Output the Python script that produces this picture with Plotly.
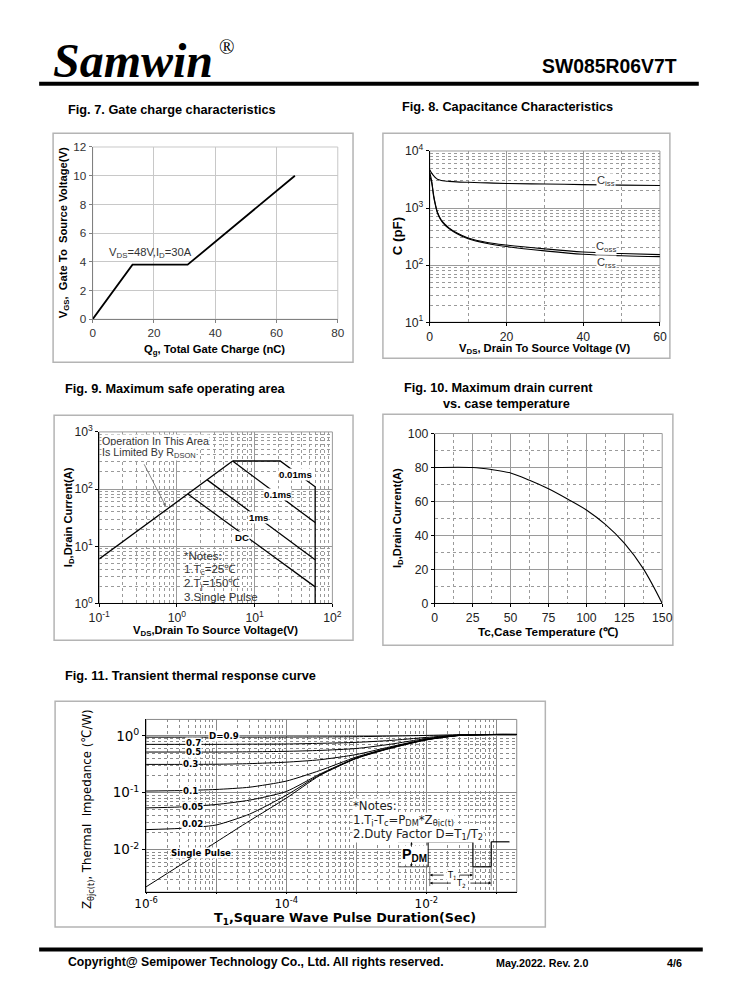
import plotly.graph_objects as go

# figure 722x984; positions below are given in target page pixels and mapped
W, H = 722, 984
SX, OX = 0.973, 11.0
SY, OY = 0.984, 8.8
def fx(p): return ((p - OX) / SX - 8) / W
def fy(p): return 1 - ((p - OY) / SY - 8) / H
FS = 1.02

# ---------------- data ----------------
# Fig 7 gate charge
qg = [0, 13, 31, 66]
vgs = [0, 3.8, 3.8, 10]

# Fig 8 capacitance
v_cap = [0, 0.5, 1, 1.5, 2, 3, 4, 5, 7, 10, 15, 20, 30, 40, 50, 60]
ciss = [4700, 4100, 3700, 3400, 3200, 3050, 2980, 2940, 2880, 2830, 2760, 2700, 2640, 2580, 2520, 2480]
coss = [4200, 3000, 1700, 1150, 850, 620, 520, 450, 370, 300, 250, 225, 193, 170, 160, 153]
crss = [3600, 2800, 1600, 1100, 820, 600, 500, 440, 360, 290, 240, 212, 178, 155, 146, 141]

# Fig 9 SOA
v_rds = [0.1, 5.2]
i_rds = [6.0, 310]
v_10us = [5.2, 21.3, 60, 60]
i_10us = [310, 310, 110, 1.0]
v_100us = [5.2, 60]
i_100us = [310, 26]
v_1ms = [2.45, 60]
i_1ms = [145, 5.8]
v_dc = [1.38, 60]
i_dc = [82, 1.95]

# Fig 10 drain current vs case temperature
tc = [0, 25, 37.5, 50, 62.5, 75, 87.5, 100, 112.5, 125, 137.5, 150]
id_tc = [80, 80, 78.8, 76.8, 72.5, 67.5, 61.5, 55, 46.5, 35.5, 20.5, 0]

# Fig 11 transient thermal response
t_pulse = [1e-6, 3e-6, 1e-5, 3e-5, 1e-4, 3e-4, 1e-3, 3e-3, 1e-2, 3e-2, 1e-1, 2e-1]
z_single = [0.0022, 0.0052, 0.0135, 0.032, 0.08, 0.2, 0.40, 0.60, 0.85, 1.02, 1.06, 1.06]
z_d002 = [0.0224, 0.0235, 0.027, 0.042, 0.09, 0.205, 0.405, 0.605, 0.855, 1.02, 1.06, 1.06]
z_d005 = [0.054, 0.056, 0.062, 0.074, 0.105, 0.212, 0.41, 0.61, 0.86, 1.02, 1.06, 1.06]
z_d01 = [0.107, 0.109, 0.114, 0.125, 0.16, 0.245, 0.425, 0.62, 0.865, 1.025, 1.06, 1.06]
z_d03 = [0.315, 0.315, 0.317, 0.325, 0.345, 0.38, 0.47, 0.64, 0.875, 1.03, 1.06, 1.06]
z_d05 = [0.52, 0.52, 0.52, 0.525, 0.535, 0.555, 0.6, 0.71, 0.9, 1.035, 1.06, 1.06]
z_d07 = [0.71, 0.71, 0.71, 0.715, 0.72, 0.74, 0.77, 0.83, 0.94, 1.04, 1.06, 1.06]
z_d09 = [0.95, 0.95, 0.95, 0.952, 0.955, 0.96, 0.97, 0.99, 1.02, 1.05, 1.06, 1.06]
duty_labels = ["D=0.9", "0.7", "0.5", "0.3", "0.1", "0.05", "0.02", "Single Pulse"]

# ---------------- figure ----------------
fig = go.Figure()
LINE = dict(color="black", width=1.3)

fig.add_trace(go.Scatter(x=qg, y=vgs, mode="lines", line=dict(color="black", width=1.8), xaxis="x", yaxis="y"))
for arr in (ciss, coss, crss):
    fig.add_trace(go.Scatter(x=v_cap, y=arr, mode="lines", line=dict(color="black", width=1.1, shape="spline"), xaxis="x2", yaxis="y2"))
for vx, iy in ((v_rds, i_rds), (v_10us, i_10us), (v_100us, i_100us), (v_1ms, i_1ms), (v_dc, i_dc)):
    fig.add_trace(go.Scatter(x=vx, y=iy, mode="lines", line=LINE, xaxis="x3", yaxis="y3"))
fig.add_trace(go.Scatter(x=tc, y=id_tc, mode="lines", line=dict(color="black", width=1.1, shape="spline"), xaxis="x4", yaxis="y4"))
for z in (z_d09, z_d07, z_d05, z_d03, z_d01, z_d005, z_d002, z_single):
    fig.add_trace(go.Scatter(x=t_pulse, y=z, mode="lines", line=dict(color="black", width=1.0, shape="spline", smoothing=0.6), xaxis="x5", yaxis="y5"))

ARIAL = "Arial, Liberation Sans, sans-serif"
DJ = "DejaVu Sans, sans-serif"
TICKF = dict(family=ARIAL, size=12 * FS, color="#222")

def dec_minor(lo_exp, hi_exp, hi_val=None):
    vals = []
    for e in range(lo_exp, hi_exp):
        for k in range(2, 10):
            v = k * 10 ** e
            if hi_val is None or v <= hi_val:
                vals.append(v)
    return vals

def sup(e):
    return f"10<sup>{e}</sup>"

common = dict(showline=True, linecolor="black", linewidth=1, zeroline=False, ticks="outside", ticklen=3, tickcolor="black")

layout = dict(
    width=W, height=H, margin=dict(l=0, r=0, t=0, b=0),
    paper_bgcolor="white", plot_bgcolor="white", showlegend=False,
    font=dict(family=ARIAL),
    # Fig 7
    xaxis=dict(domain=[fx(91.7), fx(337.7)], anchor="y", range=[0, 80], tickvals=[0, 20, 40, 60, 80],
               showgrid=True, gridcolor="#c8c8c8", gridwidth=1, tickfont=dict(family=ARIAL, size=11.5 * FS, color="#333"),
               **{**common, "linecolor": "#808080", "tickcolor": "#808080"}),
    yaxis=dict(domain=[fy(319), fy(146.7)], anchor="x", range=[0, 12], tickvals=list(range(0, 13, 2)),
               showgrid=True, gridcolor="#c8c8c8", gridwidth=1, tickfont=dict(family=ARIAL, size=11.5 * FS, color="#333"),
               **{**common, "linecolor": "#808080", "tickcolor": "#808080"}),
    # Fig 8
    xaxis2=dict(domain=[fx(430), fx(661)], anchor="y2", range=[0, 60], tickvals=[0, 20, 40, 60],
                showgrid=True, gridcolor="#9a9a9a", tickfont=TICKF,
                minor=dict(tickmode="array", tickvals=[10, 30, 50], showgrid=True, gridcolor="#9a9a9a", griddash="dot", ticks=""),
                **common),
    yaxis2=dict(domain=[fy(322), fy(150.7)], anchor="x2", type="log", range=[1, 4],
                tickvals=[10, 100, 1000, 10000], ticktext=[sup(1), sup(2), sup(3), sup(4)],
                showgrid=True, gridcolor="#9a9a9a", tickfont=TICKF,
                minor=dict(tickmode="array", tickvals=dec_minor(1, 4), showgrid=True, gridcolor="#9a9a9a", griddash="dot", ticks=""),
                **common),
    # Fig 9
    xaxis3=dict(domain=[fx(98.3), fx(332.3)], anchor="y3", type="log", range=[-1, 2],
                tickvals=[0.1, 1, 10, 100], ticktext=[sup(-1), sup(0), sup(1), sup(2)],
                showgrid=True, gridcolor="#9a9a9a", gridwidth=1.3, tickfont=TICKF,
                minor=dict(tickmode="array", tickvals=dec_minor(-1, 2), showgrid=True, gridcolor="#9a9a9a", griddash="dot", ticks=""),
                **common),
    yaxis3=dict(domain=[fy(603.3), fy(431.7)], anchor="x3", type="log", range=[0, 3],
                tickvals=[1, 10, 100, 1000], ticktext=[sup(0), sup(1), sup(2), sup(3)],
                showgrid=True, gridcolor="#9a9a9a", gridwidth=1.3, tickfont=TICKF,
                minor=dict(tickmode="array", tickvals=dec_minor(0, 3), showgrid=True, gridcolor="#9a9a9a", griddash="dot", ticks=""),
                **common),
    # Fig 10
    xaxis4=dict(domain=[fx(435), fx(663.3)], anchor="y4", range=[0, 150], tickvals=[0, 25, 50, 75, 100, 125, 150],
                showgrid=True, gridcolor="#9a9a9a", tickfont=TICKF,
                minor=dict(tickmode="array", tickvals=[12.5, 37.5, 62.5, 87.5, 112.5, 137.5], showgrid=True, gridcolor="#9a9a9a", griddash="dot", ticks=""),
                **common),
    yaxis4=dict(domain=[fy(603.3), fy(433.3)], anchor="x4", range=[0, 100], tickvals=[0, 20, 40, 60, 80, 100],
                showgrid=True, gridcolor="#9a9a9a", tickfont=TICKF,
                minor=dict(tickmode="array", tickvals=[10, 30, 50, 70, 90], showgrid=True, gridcolor="#9a9a9a", griddash="dot", ticks=""),
                **common),
    # Fig 11
    xaxis5=dict(domain=[fx(145.3), fx(517.3)], anchor="y5", type="log", range=[-6, -0.71],
                tickvals=[1e-6, 1e-5, 1e-4, 1e-3, 1e-2, 1e-1], ticktext=[sup(-6), "", sup(-4), "", sup(-2), ""],
                showgrid=True, gridcolor="#8a8a8a", gridwidth=1.3,
                tickfont=dict(family=DJ, size=12, color="black"),
                minor=dict(tickmode="array", tickvals=dec_minor(-6, 0, 0.2), showgrid=True, gridcolor="#8a8a8a", griddash="dot", ticks=""),
                **{**common, "ticklen": 1}),
    yaxis5=dict(domain=[fy(892), fy(719.3)], anchor="x5", type="log", range=[-2.75, 0.29],
                tickvals=[0.01, 0.1, 1], ticktext=[sup(-2), sup(-1), sup(0)],
                showgrid=True, gridcolor="#8a8a8a", gridwidth=1.3,
                tickfont=dict(family=DJ, size=13.5, color="black"),
                minor=dict(tickmode="array", tickvals=dec_minor(-3, 1, 2)[1:], showgrid=True, gridcolor="#8a8a8a", griddash="dot", ticks=""),
                **common),
)
fig.update_layout(**layout)

shapes = []
def box(x0, y0, x1, y1, color="#b4b4b4", width=1.5):
    shapes.append(dict(type="rect", xref="paper", yref="paper", x0=fx(x0), x1=fx(x1), y0=fy(y1), y1=fy(y0),
                       line=dict(color=color, width=width), layer="below"))
def hline(x0, x1, y, width=1, color="black", dash=None):
    shapes.append(dict(type="line", xref="paper", yref="paper", x0=fx(x0), x1=fx(x1), y0=fy(y), y1=fy(y),
                       line=dict(color=color, width=width, dash=dash)))
def vline(x, y0, y1, width=1, color="black", dash=None):
    shapes.append(dict(type="line", xref="paper", yref="paper", x0=fx(x), x1=fx(x), y0=fy(y0), y1=fy(y1),
                       line=dict(color=color, width=width, dash=dash)))

# figure frames
box(52, 133, 353, 362)
box(383, 133, 671, 358)
box(53, 415, 353, 640)
box(383, 414, 674, 645)
box(54, 701, 546, 927)
# plot frames (gray)
box(91.7, 146.7, 337.7, 319, color="#c8c8c8", width=1)
box(430, 150.7, 661, 322, color="#9a9a9a", width=1)
box(98.3, 431.7, 332.3, 603.3, color="#9a9a9a", width=1)
box(435, 433.3, 663.3, 603.3, color="#9a9a9a", width=1)
box(145.3, 719.3, 517.3, 892, color="#8a8a8a", width=1)

# header / footer rules
hline(38, 700, 83.5, width=4)
hline(38, 704, 949.5, width=4)

# pulse diagram in Fig 11
hline(398, 428.3, 841.7, width=1, color="#555")
hline(398, 428.3, 866.7, width=1, color="#555")
hline(428.3, 473.3, 841.7, width=1.2)
vline(428.3, 841.7, 866.7, width=1.2)
vline(473.3, 841.7, 866.7, width=1.2)
hline(473.3, 491.7, 866.7, width=1.2)
vline(491.7, 841.7, 866.7, width=1.2)
hline(491.7, 510, 841.7, width=1.2)
vline(430, 866.7, 886, width=0.8, color="#555")
vline(473.3, 866.7, 879, width=0.8, color="#555")
vline(491.7, 866.7, 886, width=0.8, color="#555")
fig.update_layout(shapes=shapes)

ann = []
def text(x, y, s, size=12, bold=False, color="black", xanchor="center", yanchor="middle", family=ARIAL,
         angle=0, bg=None, italic=False):
    if bold:
        s = f"<b>{s}</b>"
    if italic:
        s = f"<i>{s}</i>"
    d = dict(x=fx(x), y=fy(y), xref="paper", yref="paper", text=s, showarrow=False,
             font=dict(size=size * FS, color=color, family=family), xanchor=xanchor, yanchor=yanchor,
             textangle=angle)
    if bg:
        d["bgcolor"] = bg
        d["borderpad"] = 0
    ann.append(d)

def arrow(hx, hy, tx, ty, size=0.7, width=0.8, color="black"):
    ann.append(dict(x=fx(hx), y=fy(hy), xref="paper", yref="paper", ax=(tx - hx) / SX, ay=(ty - hy) / SY,
                    text="", showarrow=True, arrowhead=2, arrowsize=size, arrowwidth=width, arrowcolor=color))

# header
text(50, 60, "Samwin", size=47, bold=True, italic=True, family="Liberation Serif, Times New Roman, serif", xanchor="left")
text(216, 47, "®", size=20, family="Liberation Serif, Times New Roman, serif", xanchor="left")
text(680, 66, "SW085R06V7T", size=19, bold=True, xanchor="right")

# footer
text(65, 962, "Copyright@ Semipower Technology Co., Ltd. All rights reserved.", size=12, bold=True, xanchor="left")
text(494, 963, "May.2022. Rev. 2.0", size=10.5, bold=True, xanchor="left")
text(666, 963, "4/6", size=10.5, bold=True, xanchor="left")

# figure titles
text(65, 109, "Fig. 7. Gate charge characteristics", size=12.5, bold=True, xanchor="left")
text(400, 106, "Fig. 8. Capacitance Characteristics", size=12.5, bold=True, xanchor="left")
text(62, 388, "Fig. 9. Maximum safe operating area", size=12.5, bold=True, xanchor="left")
text(402, 387, "Fig. 10. Maximum drain current", size=12.5, bold=True, xanchor="left")
text(441, 403, "vs. case temperature", size=12.5, bold=True, xanchor="left")
text(62, 675, "Fig. 11. Transient thermal response curve", size=12.5, bold=True, xanchor="left")

# Fig 7 labels
text(214, 350, "Q<sub>g</sub>, Total Gate Charge (nC)", size=11, bold=True)
text(63, 233, "V<sub>GS</sub>,  Gate To  Source Voltage(V)", size=11, bold=True, angle=-90)
text(150, 253, "V<sub>DS</sub>=48V,I<sub>D</sub>=30A", size=11, color="#333")

# Fig 8 labels
text(546, 349, "V<sub>DS</sub>, Drain To Source Voltage (V)", size=11, bold=True)
text(397, 236, "C (pF)", size=13, bold=True, angle=-90)
text(607, 181, "C<sub>iss</sub>", size=11, color="#333", bg="white")
text(607, 247, "C<sub>oss</sub>", size=11, color="#333", bg="white")
text(607, 263, "C<sub>rss</sub>", size=11, color="#333", bg="white")

# Fig 9 labels
text(215, 631, "V<sub>DS</sub>,Drain To Source Voltage(V)", size=11, bold=True)
text(68, 517, "I<sub>D</sub>,Drain Current(A)", size=11, bold=True, angle=-90)
text(100, 441, "Operation In This Area", size=10.5, color="#333", xanchor="left", bg="white")
text(100, 453, "Is Limited By R<sub>DSON</sub>", size=10.5, color="#333", xanchor="left", bg="white")
text(295.5, 474, "0.01ms", size=9.5, bold=True, bg="white")
text(277, 494, "0.1ms", size=9.5, bold=True, bg="white")
text(258, 517, "1ms", size=9.5, bold=True, bg="white")
text(242, 537, "DC", size=9.5, bold=True, bg="white")
text(181, 556, "*Notes:", size=11.3, color="#333", xanchor="left")
text(181, 569.5, "1.T<sub>c</sub>=25℃", size=11.3, color="#333", xanchor="left")
text(181, 583.5, "2.T<sub>j</sub>=150℃", size=11.3, color="#333", xanchor="left")
text(181, 596.5, "3.Single Pulse", size=11.3, color="#333", xanchor="left")
arrow(165, 506, 143.3, 463.3, size=0.8, width=0.8, color="#666")

# Fig 10 labels
text(549, 631, "Tc,Case Temperature (℃)", size=11.5, bold=True)
text(398, 518, "I<sub>D</sub>,Drain Current(A)", size=11, bold=True, angle=-90)

# Fig 11 labels
text(345, 918, "T<sub>1</sub>,Square Wave Pulse Duration(Sec)", size=12.5, bold=True, family=DJ)
text(86, 809, "Z<sub>θjc(t)</sub>, Thermal  Impedance (℃/W)", size=12.8, angle=-90,
     family="Liberation Sans Narrow, Arial Narrow, DejaVu Sans Condensed, Liberation Sans, sans-serif")
lab_pos = [(224, 735.5), (192.5, 743.3), (192.5, 752.3), (190, 764.3), (190, 790.7), (191.7, 806.7), (191.7, 824.3), (200.5, 852.7)]
for s, (x, y) in zip(duty_labels, lab_pos):
    text(x, y, s, size=8.5, bold=True, bg="white", family=DJ)
text(352, 806, "*Notes:", size=11.5, xanchor="left", family=DJ, color="#222", bg="white")
text(352, 820, "1.T<sub>j</sub>-T<sub>c</sub>=P<sub>DM</sub>*Z<sub>θjc(t)</sub>", size=11.5, xanchor="left", family=DJ, color="#222", bg="white")
text(352, 834, "2.Duty Factor D=T<sub>1</sub>/T<sub>2</sub>", size=11.5, xanchor="left", family=DJ, color="#222", bg="white")
text(415, 855, "P<sub>DM</sub>", size=14, bold=True, family=ARIAL, bg="white")
text(452, 875, "T<sub>1</sub>", size=8, family=DJ, bg="white")
text(461, 883, "T<sub>2</sub>", size=8, family=DJ, bg="white")
arrow(430, 875, 445, 875)
arrow(473.3, 875, 459, 875)
arrow(430, 883, 452, 883)
arrow(491.7, 883, 470, 883)
arrow(411.7, 842, 411.7, 848, size=0.6)
arrow(411.7, 866.5, 411.7, 861, size=0.6)

fig.update_layout(annotations=ann)
fig.write_html("out.html")
